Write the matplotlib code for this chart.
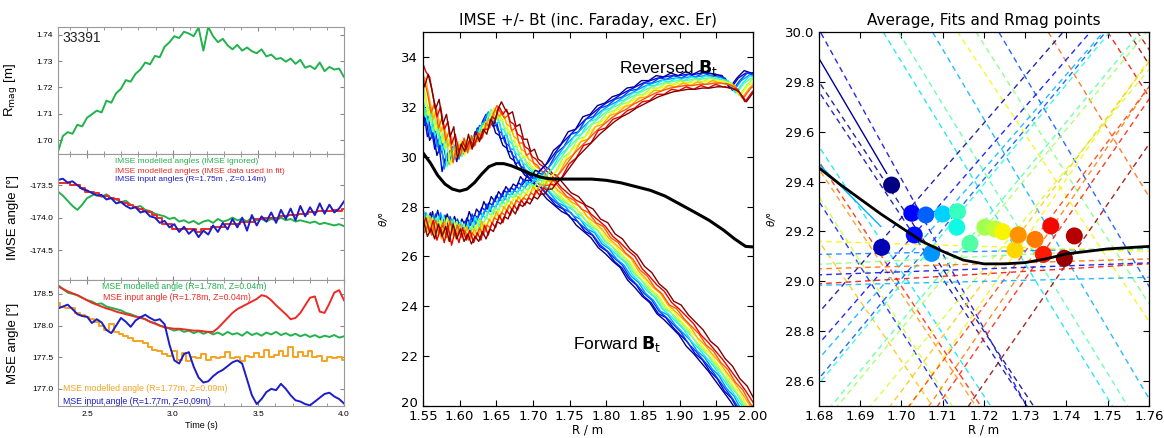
import numpy as np
import matplotlib.pyplot as plt
from matplotlib.ticker import MultipleLocator, FormatStrFormatter
from matplotlib.transforms import ScaledTranslation

plt.rcParams['font.family'] = ['DejaVu Sans']
plt.rcParams['mathtext.fontset'] = 'dejavusans'

# ---- left: time traces of shot 33391 (60 samples, 2.33 s .. 4.0 s)
t_trace = np.linspace(2.33, 4.0, 60)

rmag = [1.6955, 1.7015, 1.7030, 1.7024, 1.7058, 1.7052, 1.7085, 1.7098, 1.7112, 1.7105,
        1.7150, 1.7142, 1.7178, 1.7195, 1.7228, 1.7222, 1.7252, 1.7268, 1.7295, 1.7288,
        1.7320, 1.7315, 1.7355, 1.7372, 1.7395, 1.7388, 1.7412, 1.7405, 1.7395, 1.7428,
        1.7340, 1.7430, 1.7395, 1.7372, 1.7385, 1.7360, 1.7345, 1.7362, 1.7340, 1.7352,
        1.7338, 1.7330, 1.7345, 1.7318, 1.7325, 1.7308, 1.7312, 1.7298, 1.7310, 1.7290,
        1.7305, 1.7275, 1.7282, 1.7270, 1.7295, 1.7262, 1.7278, 1.7268, 1.7272, 1.7240]

imse_ignored = [-173.60, -173.66, -173.74, -173.82, -173.88, -173.80, -173.70, -173.66, -173.62, -173.68,
                -173.64, -173.70, -173.72, -173.76, -173.74, -173.80, -173.84, -173.82, -173.88, -173.90,
                -173.94, -173.96, -173.98, -174.02, -174.00, -174.06, -174.04, -174.08, -174.05, -174.10,
                -174.06, -174.04, -174.08, -174.02, -174.06, -174.04, -174.00, -174.04, -174.02, -174.06,
                -174.00, -174.04, -174.02, -174.06, -174.02, -174.04, -174.00, -174.04, -174.02, -174.06,
                -174.04, -174.06, -174.08, -174.06, -174.10, -174.08, -174.10, -174.12, -174.10, -174.13]

imse_fit = [-173.46, -173.46, -173.46, -173.50, -173.50, -173.55, -173.60, -173.60, -173.62, -173.66,
            -173.66, -173.70, -173.72, -173.76, -173.78, -173.80, -173.84, -173.86, -173.90, -173.92,
            -173.96, -174.00, -174.10, -174.10, -174.18, -174.18, -174.18, -174.18, -174.18, -174.22,
            -174.18, -174.18, -174.14, -174.14, -174.14, -174.10, -174.10, -174.10, -174.06, -174.06,
            -174.06, -174.02, -174.02, -174.00, -174.00, -174.00, -173.98, -173.98, -173.96, -173.96,
            -173.94, -173.94, -173.92, -173.92, -173.90, -173.90, -173.90, -173.88, -173.90, -173.86]

imse_input = [-173.42, -173.40, -173.46, -173.44, -173.50, -173.56, -173.58, -173.62, -173.66, -173.65,
              -173.72, -173.70, -173.78, -173.76, -173.82, -173.86, -173.84, -173.92, -173.90, -173.98,
              -174.00, -174.08, -174.05, -174.15, -174.10, -174.22, -174.14, -174.25, -174.18, -174.30,
              -174.20, -174.26, -174.12, -174.22, -174.08, -174.18, -174.02, -174.15, -174.00, -174.20,
              -173.96, -174.12, -173.98, -174.06, -173.92, -174.08, -173.88, -174.02, -173.86, -174.04,
              -173.82, -173.98, -173.84, -173.96, -173.78, -173.94, -173.80, -173.92, -173.86, -173.75]

mse_mod_178 = [178.64, 178.58, 178.52, 178.50, 178.48, 178.44, 178.40, 178.38, 178.34, 178.35,
               178.30, 178.28, 178.26, 178.24, 178.20, 178.18, 178.15, 178.12, 178.10, 178.06,
               178.04, 178.00, 177.98, 177.95, 177.92, 177.94, 177.90, 177.92, 177.88, 177.91,
               177.87, 177.90, 177.86, 177.89, 177.85, 177.90, 177.86, 177.88, 177.84, 177.90,
               177.85, 177.88, 177.84, 177.89, 177.86, 177.90, 177.85, 177.88, 177.84, 177.87,
               177.83, 177.86, 177.82, 177.85, 177.81, 177.84, 177.82, 177.85, 177.81, 177.83]

mse_in_178 = [178.62, 178.58, 178.54, 178.51, 178.48, 178.44, 178.40, 178.36, 178.33, 178.30,
              178.27, 178.25, 178.22, 178.20, 178.18, 178.16, 178.14, 178.13, 178.10, 178.06,
              178.03, 178.00, 177.97, 177.96, 177.95, 177.95, 177.94, 177.93, 177.92, 177.92,
              177.91, 177.90, 177.90, 177.96, 178.04, 178.12, 178.20, 178.26, 178.30, 178.34,
              178.38, 178.42, 178.48, 178.46, 178.40, 178.32, 178.25, 178.18, 178.10, 178.12,
              178.20, 178.32, 178.44, 178.46, 178.22, 178.20, 178.35, 178.52, 178.56, 178.40]

mse_mod_177 = [178.35, 178.30, 178.27, 178.27, 178.20, 178.16, 178.14, 178.10, 178.05, 178.00,
               177.93, 178.02, 177.90, 177.86, 177.83, 177.80, 177.76, 177.75, 177.72, 177.66,
               177.62, 177.60, 177.55, 177.52, 177.60, 177.46, 177.56, 177.44, 177.50, 177.48,
               177.55, 177.46, 177.50, 177.48, 177.50, 177.58, 177.48, 177.50, 177.44, 177.52,
               177.50, 177.56, 177.50, 177.62, 177.50, 177.54, 177.60, 177.52, 177.66, 177.50,
               177.58, 177.52, 177.60, 177.50, 177.52, 177.44, 177.50, 177.48, 177.50, 177.46]

mse_in_177 = [178.27, 178.30, 178.33, 178.26, 178.18, 178.15, 178.14, 178.04, 178.10, 178.05,
              177.93, 177.88, 178.00, 178.12, 178.06, 177.98, 178.08, 178.13, 178.17, 178.12,
              178.08, 178.10, 178.02, 177.70, 177.45, 177.40, 177.55, 177.58, 177.35, 177.18,
              177.10, 177.12, 177.20, 177.26, 177.30, 177.36, 177.42, 177.45, 177.40, 177.15,
              176.90, 176.76, 176.84, 176.95, 177.00, 176.98, 177.08, 177.00, 176.90, 176.82,
              176.80, 176.76, 176.74, 176.80, 176.86, 176.92, 176.94, 176.88, 176.84, 176.77]

# ---- middle: IMSE profiles, two base curves per field direction + per-timeslice offsets
r_prof = [1.530, 1.535, 1.540, 1.545, 1.550, 1.555, 1.560, 1.565, 1.570, 1.575, 1.580, 1.585,
          1.590, 1.595, 1.600, 1.605, 1.610, 1.615, 1.620, 1.625, 1.630, 1.635, 1.640, 1.645,
          1.650, 1.655, 1.660, 1.665, 1.670, 1.675, 1.680, 1.685, 1.690, 1.695, 1.700, 1.705,
          1.710, 1.715, 1.720, 1.730, 1.740, 1.750, 1.760, 1.770, 1.780, 1.790, 1.800, 1.810,
          1.820, 1.830, 1.840, 1.850, 1.860, 1.870, 1.880, 1.890, 1.900, 1.910, 1.920, 1.930,
          1.940, 1.950, 1.960, 1.970, 1.980, 1.990, 2.000, 2.010, 2.020]
theta_fwd_a = [33.0, 33.3, 33.6, 33.2, 33.0, 32.2, 31.4, 31.8, 30.9, 31.2, 30.3, 30.7,
               30.0, 30.4, 30.1, 30.5, 30.2, 30.6, 30.5, 30.9, 30.9, 31.4, 31.3, 31.8,
               31.5, 31.7, 31.2, 31.1, 30.7, 30.6, 30.2, 30.1, 29.8, 29.7, 29.5, 29.4,
               29.2, 29.1, 28.9, 28.55, 28.3, 28.05, 27.9, 27.5, 27.25, 27.0, 26.6, 26.35,
               26.05, 25.8, 25.3, 25.0, 24.65, 24.4, 23.95, 23.7, 23.4, 23.1, 22.65, 22.35,
               22.0, 21.65, 21.25, 20.85, 20.45, 20.0, 19.6, 19.2, 18.8]
theta_fwd_b = [32.6, 33.1, 32.5, 33.0, 32.4, 31.6, 32.0, 31.0, 31.4, 30.5, 30.9, 29.6,
               30.2, 29.9, 30.6, 30.0, 30.7, 30.3, 30.8, 30.6, 31.2, 31.0, 31.6, 31.9,
               31.6, 31.4, 31.5, 30.9, 31.0, 30.4, 30.4, 29.9, 30.0, 29.6, 29.5, 29.3,
               29.2, 29.0, 28.95, 28.6, 28.25, 28.1, 27.75, 27.6, 27.2, 27.05, 26.6, 26.4,
               26.0, 25.75, 25.3, 25.05, 24.6, 24.35, 23.9, 23.75, 23.35, 23.05, 22.75, 22.3,
               22.05, 21.6, 21.3, 20.8, 20.5, 19.95, 19.65, 19.2, 18.85]
theta_rev_a = [27.8, 27.2, 27.7, 27.1, 27.4, 27.0, 27.6, 27.1, 27.5, 26.9, 27.6, 27.0,
               27.4, 26.9, 27.2, 26.8, 27.1, 26.9, 27.3, 27.0, 27.4, 27.3, 27.7, 27.6,
               27.9, 27.8, 28.2, 28.0, 28.4, 28.3, 28.5, 28.4, 28.7, 28.6, 28.8, 28.8,
               29.0, 29.0, 29.2, 29.5, 29.9, 30.3, 30.6, 30.9, 31.2, 31.45, 31.7, 31.9,
               32.05, 32.25, 32.4, 32.55, 32.7, 32.8, 32.9, 32.95, 33.0, 33.0, 33.05, 33.05,
               33.1, 33.1, 33.05, 32.9, 32.5, 32.9, 33.1, 33.1, 33.1]
theta_rev_b = [27.3, 27.9, 27.4, 27.8, 27.2, 27.7, 26.9, 27.4, 26.8, 27.5, 26.7, 27.3,
               26.8, 27.4, 26.9, 27.3, 26.8, 27.2, 26.9, 27.5, 27.1, 27.6, 27.4, 27.9,
               27.6, 28.1, 27.9, 28.3, 28.1, 28.5, 28.3, 28.6, 28.5, 28.9, 28.7, 29.0,
               28.9, 29.15, 29.1, 29.4, 29.95, 30.2, 30.7, 30.8, 31.3, 31.4, 31.75, 31.85,
               32.1, 32.2, 32.45, 32.5, 32.75, 32.75, 32.95, 32.9, 33.05, 32.95, 33.1, 33.0,
               33.15, 33.05, 33.0, 32.95, 32.45, 32.85, 33.15, 33.05, 33.1]
fwd_dr = [-0.011, -0.009, -0.008, -0.006, -0.004, -0.002, 0.0, 0.002, 0.004, 0.006, 0.009, 0.012]
fwd_dt = [-0.25, -0.2, -0.15, -0.1, -0.05, 0.0, 0.0, 0.05, 0.1, 0.15, 0.2, 0.3]
rev_dr = [-0.012, -0.010, -0.008, -0.006, -0.004, -0.002, 0.001, 0.003, 0.005, 0.007, 0.009, 0.011]
rev_dt = [0.3, 0.25, 0.2, 0.15, 0.1, 0.05, 0.0, -0.05, -0.1, -0.15, -0.25, -0.3]

r_avg = [1.550, 1.560, 1.570, 1.580, 1.590, 1.600, 1.610, 1.620, 1.630, 1.640, 1.650, 1.660,
         1.670, 1.680, 1.690, 1.700, 1.710, 1.720, 1.730, 1.740, 1.760, 1.780, 1.800, 1.820,
         1.840, 1.860, 1.880, 1.900, 1.920, 1.940, 1.960, 1.975, 1.990, 2.000]
theta_avg = [30.15, 29.75, 29.25, 28.90, 28.70, 28.62, 28.70, 28.95, 29.30, 29.60, 29.72, 29.72,
             29.64, 29.52, 29.40, 29.28, 29.18, 29.12, 29.10, 29.10, 29.10, 29.10, 29.05, 28.95,
             28.80, 28.65, 28.42, 28.10, 27.78, 27.45, 27.05, 26.70, 26.40, 26.38]

# ---- right: zoom near the crossing
r_avg_zoom = [1.680, 1.685, 1.690, 1.695, 1.700, 1.705, 1.710, 1.715, 1.720,
              1.725, 1.730, 1.735, 1.740, 1.745, 1.750, 1.755, 1.760]
theta_avg_zoom = [29.455, 29.39, 29.33, 29.27, 29.215, 29.16, 29.12, 29.085, 29.07,
                  29.07, 29.075, 29.09, 29.11, 29.12, 29.13, 29.135, 29.14]

rmag_r = [1.6976, 1.6952, 1.7025, 1.7031, 1.7059, 1.7073, 1.7100, 1.7136, 1.7134, 1.7166,
          1.7202, 1.7227, 1.7245, 1.7275, 1.7283, 1.7324, 1.7344, 1.7362, 1.7395, 1.7419]
rmag_theta = [29.386, 29.136, 29.273, 29.186, 29.266, 29.112, 29.270, 29.279, 29.217, 29.152,
              29.217, 29.210, 29.199, 29.126, 29.186, 29.168, 29.108, 29.222, 29.092, 29.182]
rmag_level = [0.00, 0.05, 0.11, 0.14, 0.22, 0.27, 0.33, 0.42, 0.37, 0.45,
              0.55, 0.58, 0.65, 0.68, 0.75, 0.78, 0.88, 0.90, 0.98, 0.95]

# linear fits: colour level, theta at R=1.72, slope (deg/m)
fit_level = [0.10, 0.35, 0.45, 0.65, 0.20, 0.80, 0.90, 0.98, 0.95, 0.00, 0.05, 0.35, 0.88,
             0.75, 0.60, 0.15, 0.70, 0.30, 0.50,
             0.02, 0.12, 0.20, 0.38, 0.45, 0.55, 0.65, 0.78, 0.88, 0.98, 0.70, 0.85, 0.60, 0.30,
             0.10, 0.25, 0.50, 0.80, 0.30, 0.65, 0.90]
fit_theta = [28.81, 29.34, 29.44, 29.84, 30.10, 30.42, 30.78, 30.91, 30.93, 28.80, 28.76, 28.54, 28.48,
             28.45, 28.30, 28.28, 28.20, 29.65, 29.95,
             29.635, 29.51, 29.41, 29.39, 29.24, 29.21, 28.93, 28.82, 28.77, 28.59, 29.00, 28.90, 29.05, 29.45,
             29.05, 29.12, 29.10, 29.07, 29.00, 29.14, 29.03]
fit_slope = [-30, -27, -27, -25, -28, -27, -26, -26, -25, -25, -25, -25, -25,
             -25, -26, -26, -24, -28, -26,
             19, 19, 20, 20, 20, 20, 24, 24, 24, 24, 22, 22, 20, 19,
             0.6, 0.3, 0.8, 0.5, 0.4, -0.5, 1.0]

trace_level = [0.02, 0.30]
trace_r = [[1.6802, 1.6964], [1.680, 1.695]]
trace_theta = [[29.888, 29.433], [29.47, 29.22]]

GREEN = '#22b24c'
RED = '#ee2a24'
BLUE = '#1c1cc8'
ORANGE = '#f5a220'
LFONT = 'Liberation Sans'

fig = plt.figure(figsize=(11.64, 4.38), dpi=100)
ax1 = fig.add_axes([0.0498, 0.6484, 0.2457, 0.2900])
ax2 = fig.add_axes([0.0498, 0.3607, 0.2457, 0.2877])
ax3 = fig.add_axes([0.0498, 0.0731, 0.2457, 0.2877])
axm = fig.add_axes([0.3634, 0.0731, 0.2835, 0.8539])
axr = fig.add_axes([0.7036, 0.0731, 0.2835, 0.8539])

ax1.plot(t_trace, rmag, color=GREEN, lw=1.4)
ax2.plot(t_trace, imse_ignored, color=GREEN, lw=1.4)
ax2.plot(t_trace, imse_fit, color=RED, lw=1.4, drawstyle='steps-mid')
ax2.plot(t_trace, imse_input, color=BLUE, lw=1.4)
ax3.plot(t_trace, mse_mod_178, color=GREEN, lw=1.4)
ax3.plot(t_trace, mse_in_178, color=RED, lw=1.4)
ax3.plot(t_trace, mse_mod_177, color=ORANGE, lw=1.4, drawstyle='steps-mid')
ax3.plot(t_trace, mse_in_177, color=BLUE, lw=1.4)

ax1.set_ylim(1.6947, 1.7430)
ax2.set_ylim(-174.96, -173.02)
ax3.set_ylim(176.73, 178.72)
ax1.yaxis.set_major_locator(MultipleLocator(0.01))
ax1.yaxis.set_major_formatter(FormatStrFormatter('%.2f'))
for ax in (ax2, ax3):
    ax.yaxis.set_major_locator(MultipleLocator(0.5))
    ax.yaxis.set_major_formatter(FormatStrFormatter('%.1f'))

for ax in (ax1, ax2, ax3):
    ax.set_xlim(2.33, 4.0)
    ax.xaxis.set_major_locator(MultipleLocator(0.5))
    ax.xaxis.set_minor_locator(MultipleLocator(0.1))
    ax.xaxis.set_major_formatter(FormatStrFormatter('%.1f'))
    ax.tick_params(which='both', direction='in', labelsize=6, length=3, color='#888888',
                   top=True, right=True)
    ax.tick_params(which='minor', length=2)
    for s in ax.spines.values():
        s.set_color('#999999')
        s.set_linewidth(0.8)
    for lab in ax.get_xticklabels() + ax.get_yticklabels():
        lab.set_family(LFONT)
ax1.tick_params(labelbottom=False)
ax2.tick_params(labelbottom=False)

ax1.set_ylabel(r'R$_{\mathrm{mag}}$ [m]', fontsize=9.5, family=LFONT)
ax2.set_ylabel('IMSE angle [°]', fontsize=9.5, family=LFONT)
ax3.set_ylabel('MSE angle [°]', fontsize=9.5, family=LFONT)
for ax in (ax1, ax2, ax3):
    ax.yaxis.set_label_coords(-0.135, 0.5)
ax3.set_xlabel('Time (s)', fontsize=6.5, family=LFONT, labelpad=2)

ax1.text(0.015, 0.91, '33391', transform=ax1.transAxes, fontsize=10, family=LFONT,
         va='center', color='#222222')
ax2.text(0.199, 0.937, 'IMSE modelled angles (IMSE ignored)', transform=ax2.transAxes,
         color=GREEN, fontsize=6, family=LFONT, va='center')
ax2.text(0.199, 0.865, 'IMSE modelled angles (IMSE data used in fit)', transform=ax2.transAxes,
         color=RED, fontsize=6, family=LFONT, va='center')
ax2.text(0.199, 0.794, 'IMSE input angles (R=1.75m , Z=0.14m)', transform=ax2.transAxes,
         color=BLUE, fontsize=6, family=LFONT, va='center')
ax3.text(0.154, 0.952, 'MSE modelled angle (R=1.78m, Z=0.04m)', transform=ax3.transAxes,
         color=GREEN, fontsize=6.3, family=LFONT, va='center')
ax3.text(0.157, 0.857, 'MSE input angle (R=1.78m, Z=0.04m)', transform=ax3.transAxes,
         color=RED, fontsize=6.3, family=LFONT, va='center')
ax3.text(0.017, 0.135, 'MSE modelled angle (R=1.77m, Z=0.09m)', transform=ax3.transAxes,
         color=ORANGE, fontsize=6.3, family=LFONT, va='center')
ax3.text(0.017, 0.032, 'MSE input angle (R=1.77m, Z=0.09m)', transform=ax3.transAxes,
         color=BLUE, fontsize=6.3, family=LFONT, va='center')

# middle panel: alternate the two noisy bases so neighbouring colours differ
jet = plt.cm.jet(np.linspace(0, 1, 12))
r_prof = np.array(r_prof)
fwd_bases = [np.array(theta_fwd_a), np.array(theta_fwd_b)]
rev_bases = [np.array(theta_rev_a), np.array(theta_rev_b)]
for i in range(12):
    axm.plot(r_prof + fwd_dr[i], fwd_bases[i % 2] + fwd_dt[i], color=jet[i], lw=1.0)
for i in range(12):
    axm.plot(r_prof + rev_dr[i], rev_bases[(i + 1) % 2] + rev_dt[i], color=jet[i], lw=1.0)
axm.plot(r_avg, theta_avg, color='black', lw=2.2, zorder=5)

axm.set_xlim(1.55, 2.0)
axm.set_ylim(20, 35)
axm.xaxis.set_major_locator(MultipleLocator(0.05))
axm.xaxis.set_major_formatter(FormatStrFormatter('%.2f'))
axm.set_yticks([20, 22, 24, 26, 28, 30, 32, 34])
axm.set_title('IMSE +/- Bt (inc. Faraday, exc. Er)', fontsize=11, pad=5)
axm.text(0.895, 0.905, r'Reversed $\mathbf{B}_\mathrm{t}$', transform=axm.transAxes,
         fontsize=12.5, family=LFONT, ha='right', va='center')
axm.text(0.455, 0.167, r'Forward $\mathbf{B}_\mathrm{t}$', transform=axm.transAxes,
         fontsize=12.5, family=LFONT, ha='left', va='center')

# right panel
r_line = np.array([1.67, 1.77])
cmap = plt.cm.jet
for lev, th, sl in zip(fit_level, fit_theta, fit_slope):
    axr.plot(r_line, th + sl * (r_line - 1.72), color=cmap(lev), lw=1.0,
             dashes=(4, 3), alpha=0.85)
for lev, rr, tt in zip(trace_level, trace_r, trace_theta):
    axr.plot(rr, tt, color=cmap(lev), lw=1.0)
axr.scatter(rmag_r, rmag_theta, c=rmag_level, cmap='jet', vmin=0, vmax=1, s=150,
            edgecolors='none', zorder=5)
axr.plot(r_avg_zoom, theta_avg_zoom, color='black', lw=2.0, zorder=6)

axr.set_xlim(1.68, 1.76)
axr.set_ylim(28.5, 30.0)
axr.xaxis.set_major_locator(MultipleLocator(0.01))
axr.xaxis.set_major_formatter(FormatStrFormatter('%.2f'))
axr.yaxis.set_major_locator(MultipleLocator(0.2))
axr.yaxis.set_major_formatter(FormatStrFormatter('%.1f'))
axr.set_title('Average, Fits and Rmag points', fontsize=11, pad=5)

for ax in (axm, axr):
    ax.tick_params(direction='in', labelsize=9.5, length=4, top=True, right=True)
    ax.tick_params(axis='x', pad=3)
    ax.set_xlabel('R / m', fontsize=8.5)
    ax.xaxis.set_label_coords(0.5, -0.047)
    ax.set_ylabel(r'$\theta$/°', fontsize=7.5, style='italic')
    for s in ax.spines.values():
        s.set_linewidth(0.9)
axm.yaxis.set_label_coords(-0.1, 0.5)
axr.yaxis.set_label_coords(-0.125, 0.5)

# lift the bottom "20" label a little so it clears "1.55"
lab20 = axm.get_yticklabels()[0]
lab20.set_transform(lab20.get_transform() + ScaledTranslation(0, 3 / 72, fig.dpi_scale_trans))

fig.savefig('out.png', dpi=100)
